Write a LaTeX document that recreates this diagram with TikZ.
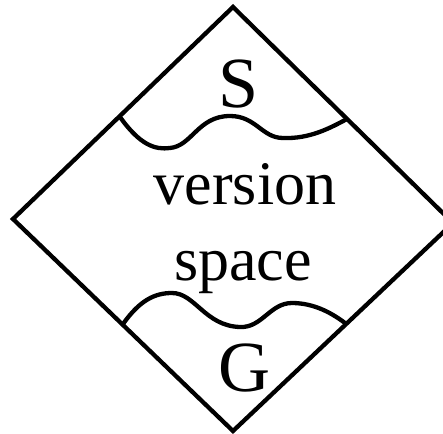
\documentclass[tikz,border=0pt]{standalone}
\usepackage{fontspec}
\setmainfont{Liberation Serif}
\begin{document}
\begin{tikzpicture}[x=1pt,y=-1pt,
  edge/.style={line width=4.3pt,line join=miter},
  wave/.style={line width=4.3pt,line cap=butt},
  big/.style={font=\fontsize{72}{72}\selectfont,inner sep=0pt,anchor=base},
  mid/.style={font=\fontsize{62}{62}\selectfont,inner sep=0pt,anchor=base}]
\useasboundingbox (0,0) rectangle (443,433);
\coordinate (T) at (233,7);
\coordinate (R) at (453,223);
\coordinate (B) at (233,431);
\coordinate (L) at (13,219);
\draw[edge] (T) -- (R) -- (B) -- (L) -- cycle;
\draw[wave] (120,117) .. controls (140,145) and (155,150) .. (170,148)
  .. controls (192,146) and (198,116) .. (230,116)
  .. controls (256,116) and (262,138) .. (283,138)
  .. controls (310,139) and (330,128) .. (347,119);
\draw[wave] (123,324) .. controls (140,300) and (155,293) .. (172,293)
  .. controls (195,293) and (205,326) .. (240,327)
  .. controls (262,328) and (270,303) .. (292,303)
  .. controls (315,303) and (333,314) .. (345,323);
\node[big] (S) at (239,107) {S};
\node[mid] (v) at (245,204) {version};
\node[mid] (sp) at (243,280) {space};
\node[big] (G) at (244,391) {G};
\end{tikzpicture}
\end{document}
